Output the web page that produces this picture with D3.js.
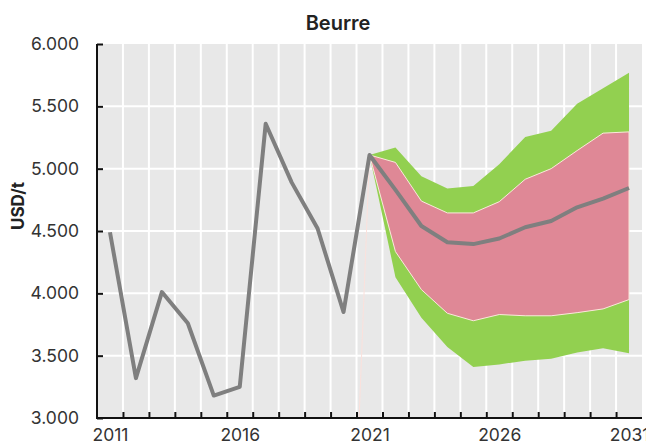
<!DOCTYPE html>
<html><head><meta charset="utf-8">
<script src="https://cdn.jsdelivr.net/npm/d3@7/dist/d3.min.js"></script>
<style>body{margin:0;background:#fff}svg{display:block}text{font-family:Inter,"Noto Sans",sans-serif}</style>
</head><body><svg id="c" width="646" height="444"></svg>
<script>
const title = "Beurre";
const yLabel = "USD/t";
const histYears = [2011,2012,2013,2014,2015,2016,2017,2018,2019,2020,2021];
const histValues = [4490,3320,4010,3760,3180,3250,5360,4890,4520,3850,5110];
const fcYears = [2021,2022,2023,2024,2025,2026,2027,2028,2029,2030,2031];
const fcMean = [5110,4830,4540,4410,4395,4440,4530,4580,4690,4760,4845];
const pinkUpper = [5110,5050,4740,4645,4645,4735,4915,5000,5145,5285,5295];
const pinkLower = [5110,4335,4030,3840,3780,3830,3820,3820,3845,3875,3950];
const greenUpper = [5110,5170,4940,4840,4860,5035,5255,5305,5520,5645,5770];
const greenLower = [5110,4130,3805,3570,3410,3430,3460,3475,3525,3560,3520];
const yTicks = [3000,3500,4000,4500,5000,5500,6000];
const xLabelYears = [2011,2016,2021,2026,2031];
const allYears = d3.range(2011, 2032);

const svg = d3.select("#c");
const L=97, R=642, T=44, B=418;
const x = d3.scaleLinear().domain([2010.5, 2031.5]).range([L, R]);
const y = d3.scaleLinear().domain([3000, 6000]).range([B, T]);
const loc = d3.formatLocale({decimal:",", thousands:".", grouping:[3], currency:["",""]});
const fmt = loc.format(",.0f");

svg.append("rect").attr("x",L).attr("y",T).attr("width",R-L).attr("height",B-T).attr("fill","#e8e8e8");
const g = svg.append("g");
g.selectAll(".hg").data(yTicks.slice(1,-1)).join("line")
  .attr("x1",L).attr("x2",R).attr("y1",d=>y(d)).attr("y2",d=>y(d))
  .attr("stroke","#fff").attr("stroke-width",2);
const bounds = allYears.slice(0,-1).map(d=>d+0.5);
g.selectAll(".vg").data(bounds).join("line")
  .attr("x1",d=>x(d)).attr("x2",d=>x(d)).attr("y1",T).attr("y2",B)
  .attr("stroke","#fff").attr("stroke-width",2);

const fc = fcYears.map((yr,i)=>({yr, m:fcMean[i], pu:pinkUpper[i], pl:pinkLower[i], gu:greenUpper[i], gl:greenLower[i]}));
svg.append("path").datum(fc)
  .attr("d", d3.area().x(d=>x(d.yr)).y0(d=>y(d.gl)).y1(d=>y(d.gu)))
  .attr("fill","#92d050");
svg.append("path").datum(fc)
  .attr("d", d3.area().x(d=>x(d.yr)).y0(d=>y(d.pl)).y1(d=>y(d.pu)))
  .attr("fill","#df8896").attr("stroke","#fbe8dc").attr("stroke-width",1);
// faint guide line
svg.append("line").attr("x1",x(2021)).attr("y1",y(5110)).attr("x2",x(2020.6)).attr("y2",y(3000))
  .attr("stroke","#fbe1dc").attr("stroke-width",1);

const line = d3.line().x(d=>x(d[0])).y(d=>y(d[1]));
const hist = histYears.map((d,i)=>[d,histValues[i]]);
const fl = fcYears.map((d,i)=>[d,fcMean[i]]);
svg.append("path").datum(hist.concat(fl.slice(1))).attr("d",line)
  .attr("fill","none").attr("stroke","#7f7f7f").attr("stroke-width",4).attr("stroke-linejoin","round");

// axes
const ya = svg.append("g").attr("transform",`translate(${L},0)`)
  .call(d3.axisLeft(y).tickValues(yTicks).tickSize(-6).tickPadding(18).tickFormat(fmt));
ya.select(".domain").remove();
ya.selectAll(".tick line").attr("stroke","#111").attr("stroke-width",2);
ya.selectAll("text").attr("font-size",17.5).attr("fill","#333");
svg.append("line").attr("x1",L).attr("x2",L).attr("y1",T).attr("y2",B+1).attr("stroke","#111").attr("stroke-width",2);

const xa = svg.append("g").attr("transform",`translate(0,${B})`)
  .call(d3.axisBottom(x).tickValues(bounds).tickSize(-6).tickFormat(""));
xa.select(".domain").remove();
xa.selectAll(".tick line").attr("stroke","#111").attr("stroke-width",2);
svg.append("line").attr("x1",L-1).attr("x2",R).attr("y1",B).attr("y2",B).attr("stroke","#111").attr("stroke-width",2);
const xl = svg.append("g").attr("transform",`translate(0,${B})`)
  .call(d3.axisBottom(x).tickValues(xLabelYears).tickSize(0).tickPadding(11).tickFormat(d3.format("d")));
xl.select(".domain").remove();
xl.selectAll("text").attr("font-size",17.5).attr("fill","#333");

svg.append("text").attr("x",338).attr("y",30).attr("text-anchor","middle")
  .attr("font-size",20).attr("font-weight",600).attr("fill","#222").text(title);
svg.append("text").attr("transform","translate(24,206) rotate(-90)").attr("text-anchor","middle")
  .attr("font-size",17).attr("font-weight",700).attr("fill","#222").text(yLabel);
</script></body></html>
